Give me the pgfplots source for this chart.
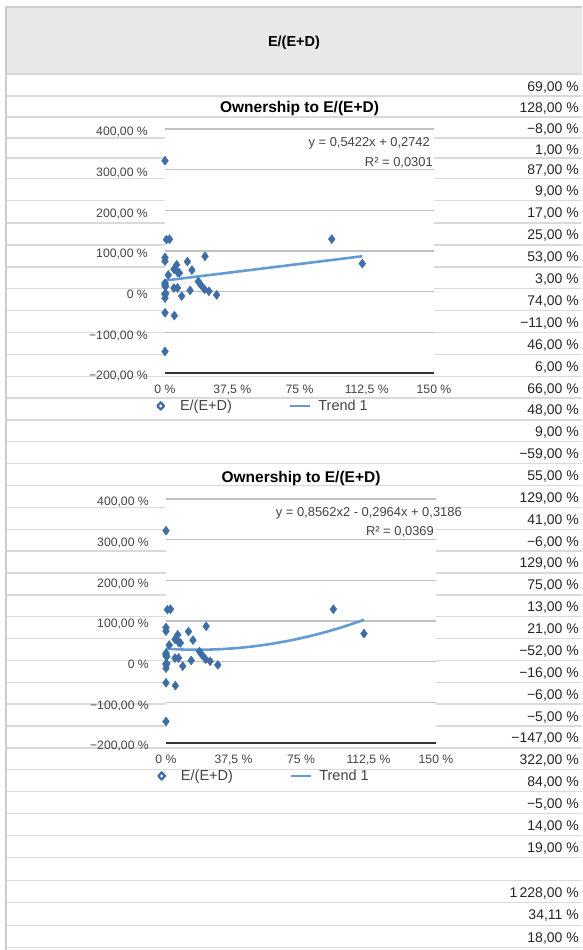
\documentclass[border=0pt]{standalone}
\usepackage{pgfplots}
\pgfplotsset{compat=1.18}
\usepackage{pgfplotstable}
\usepackage{fontspec}
\setmainfont{Liberation Sans}
\definecolor{rowline}{RGB}{218,218,218}
\definecolor{headgray}{RGB}{232,232,232}
\definecolor{headborder}{RGB}{205,205,205}
\definecolor{valtext}{RGB}{38,38,38}
\definecolor{ticktext}{RGB}{68,68,68}
\definecolor{gridc}{RGB}{192,192,192}
\definecolor{markblue}{RGB}{62,110,165}
\definecolor{trendblue}{RGB}{100,155,212}

\pgfplotstableread{
x y
0 322
0.8 128
2.5 129
93 129
0 84
0 75
22.3 87
12.5 74
110 69
6.5 66
5 55
15 53
7 48
8 46
1.8 41
18.6 25
0 21
0 19
19.9 17
0 14
0.4 13
5 9
7 9
14 3
22 6
24.5 1
0 -5
0.4 -5
0 -6
0.3 -6
28.8 -8
9.3 -11
0 -16
0 -52
5.2 -59
0 -147
}\owndata

\newcommand{\val}[2]{\node[anchor=base east, inner sep=0pt, text=valtext, font=\fontsize{14}{16}\selectfont] at (axis cs:579,#1) {#2};}

\tikzset{
  eqnode/.style={anchor=base east, inner sep=0pt, text=ticktext, font=\fontsize{12.9}{14}\selectfont},
  titlenode/.style={anchor=base, inner sep=0pt, text=black, font=\bfseries\fontsize{15.5}{17}\selectfont},
}

\pgfplotsset{
  chart/.style={
    scale only axis, height=244pt,
    xmin=0, xmax=150, ymin=-200, ymax=400,
    xtick={0,37.5,75,112.5,150},
    xticklabels={{0 \%},{37,5 \%},{75 \%},{112,5 \%},{150 \%}},
    ytick={-200,-100,0,100,200,300,400},
    yticklabels={{−200,00 \%},{−100,00 \%},{0 \%},{100,00 \%},{200,00 \%},{300,00 \%},{400,00 \%}},
    axis line style={draw=none},
    major tick length=0pt,
    ymajorgrids,
    major grid style={gridc, line width=1.5pt},
    axis background/.style={fill=white},
    tick label style={font=\fontsize{12.2}{14}\selectfont, text=ticktext, inner sep=0pt},
    yticklabel style={anchor=base east, xshift=-17pt, yshift=-6.9pt},
    xticklabel style={anchor=base, yshift=-20.4pt},
    clip=false,
    legend columns=-1,
    legend style={draw=none, fill=none, inner sep=0pt, outer sep=0pt,
      at={(-0.0327,-0.1352)}, anchor=west,
      font=\fontsize{14.5}{16}\selectfont, text=ticktext,
      nodes={inner sep=0pt},
      /tikz/every odd column/.append style={column sep=7pt},
      /tikz/every even column/.append style={column sep=57pt}},
  },
  scat/.style={only marks, mark=diamond*, mark size=4.5pt, markblue,
    legend image code/.code={
      \draw[markblue, line width=2.3pt, line join=round] (0pt,3.6pt) -- (3.3pt,0pt) -- (0pt,-3.6pt) -- (-3.3pt,0pt) -- cycle;
      \path[draw=none, fill=none] (-4.5pt,0pt) -- (12.3pt,0pt);}},
  trend/.style={trendblue, line width=2.6pt, no marks,
    legend image code/.code={\draw[trendblue, line width=2.4pt] (0pt,0pt) -- (20pt,0pt);}},
}

\begin{document}
\begin{tikzpicture}
\useasboundingbox (0,0) rectangle (582pt,950pt);
% spreadsheet background
\begin{axis}[
  at={(6pt,0pt)}, anchor=south west,
  scale only axis, width=576pt, height=950pt,
  xmin=6, xmax=582, ymin=0, ymax=950, y dir=reverse,
  axis line style={draw=none}, major tick length=0pt,
  xtick=\empty,
  ytick={74,96,117,138,158,178.5,200.5,222.8,245,266.9,288.7,310.6,332.4,354.3,376.2,398,419.9,441.7,463.6,485.5,507.3,529.2,551,572.9,594.8,616.6,638.5,660.3,682.2,704.1,725.9,747.8,769.6,791.5,813.4,835.2,857.7,880.2,902.7,925.2,947.7},
  yticklabels={},
  ymajorgrids,
  major grid style={rowline, line width=1.4pt},
  clip=false,
]
\fill[headgray] (axis cs:6,7) rectangle (axis cs:582,73.3);
\draw[headborder, line width=1.2pt] (axis cs:582,7) -- (axis cs:6,7) -- (axis cs:6,950);
\node[font=\bfseries\fontsize{14.5}{16}\selectfont, text=black] at (axis cs:294,43) {E/(E+D)};
\val{91}{69,00 \%}
\val{112.5}{128,00 \%}
\val{133.5}{−8,00 \%}
\val{154}{1,00 \%}
\val{174.25}{87,00 \%}
\val{195.5}{9,00 \%}
\val{217.65}{17,00 \%}
\val{239.9}{25,00 \%}
\val{261.95}{53,00 \%}
\val{283.8}{3,00 \%}
\val{305.65}{74,00 \%}
\val{327.5}{−11,00 \%}
\val{349.35}{46,00 \%}
\val{371.25}{6,00 \%}
\val{393.1}{66,00 \%}
\val{414.95}{48,00 \%}
\val{436.8}{9,00 \%}
\val{458.65}{−59,00 \%}
\val{480.55}{55,00 \%}
\val{502.4}{129,00 \%}
\val{524.25}{41,00 \%}
\val{546.1}{−6,00 \%}
\val{567.95}{129,00 \%}
\val{589.85}{75,00 \%}
\val{611.7}{13,00 \%}
\val{633.55}{21,00 \%}
\val{655.4}{−52,00 \%}
\val{677.25}{−16,00 \%}
\val{699.15}{−6,00 \%}
\val{721}{−5,00 \%}
\val{742.85}{−147,00 \%}
\val{764.7}{322,00 \%}
\val{786.55}{84,00 \%}
\val{808.45}{−5,00 \%}
\val{830.3}{14,00 \%}
\val{852.45}{19,00 \%}
\val{897.45}{1\thinspace 228,00 \%}
\val{919.95}{34,11 \%}
\val{942.45}{18,00 \%}
\end{axis}

% chart 1 (linear trend)
\begin{axis}[chart, at={(165pt,577pt)}, anchor=south west, width=269pt]
\draw[black!80, line width=1.5pt] (axis cs:0,-200) -- (axis cs:150,-200);
\addplot[scat] table[x=x, y=y] {\owndata};
\addlegendentry{E/(E+D)}
\addplot[trend] coordinates {(0,27.42) (110,87.06)};
\addlegendentry{Trend 1}
\node[eqnode] at (axis cs:147.8,356.7) {y = 0,5422x + 0,2742};
\node[eqnode] at (axis cs:149.4,307.5) {R² = 0,0301};
\node[titlenode] at (rel axis cs:0.5,1.0672) {Ownership to E/(E+D)};
\end{axis}

% chart 2 (quadratic trend)
\begin{axis}[chart, at={(166pt,207pt)}, anchor=south west, width=270pt]
\draw[black!80, line width=1.5pt] (axis cs:0,-200) -- (axis cs:150,-200);
\addplot[scat] table[x=x, y=y] {\owndata};
\addlegendentry{E/(E+D)}
\addplot[trend, smooth] coordinates {(0,31.86) (10,29.75) (20,29.36) (30,30.67) (40,33.70) (50,38.45) (60,44.90) (70,53.07) (80,62.94) (90,74.54) (100,87.84) (110,102.86)};
\addlegendentry{Trend 1}
\node[eqnode] at (axis cs:164.4,356.7) {y = 0,8562x2 - 0,2964x + 0,3186};
\node[eqnode] at (axis cs:148.9,310) {R² = 0,0369};
\node[titlenode] at (rel axis cs:0.5,1.0672) {Ownership to E/(E+D)};
\end{axis}
\end{tikzpicture}
\end{document}
